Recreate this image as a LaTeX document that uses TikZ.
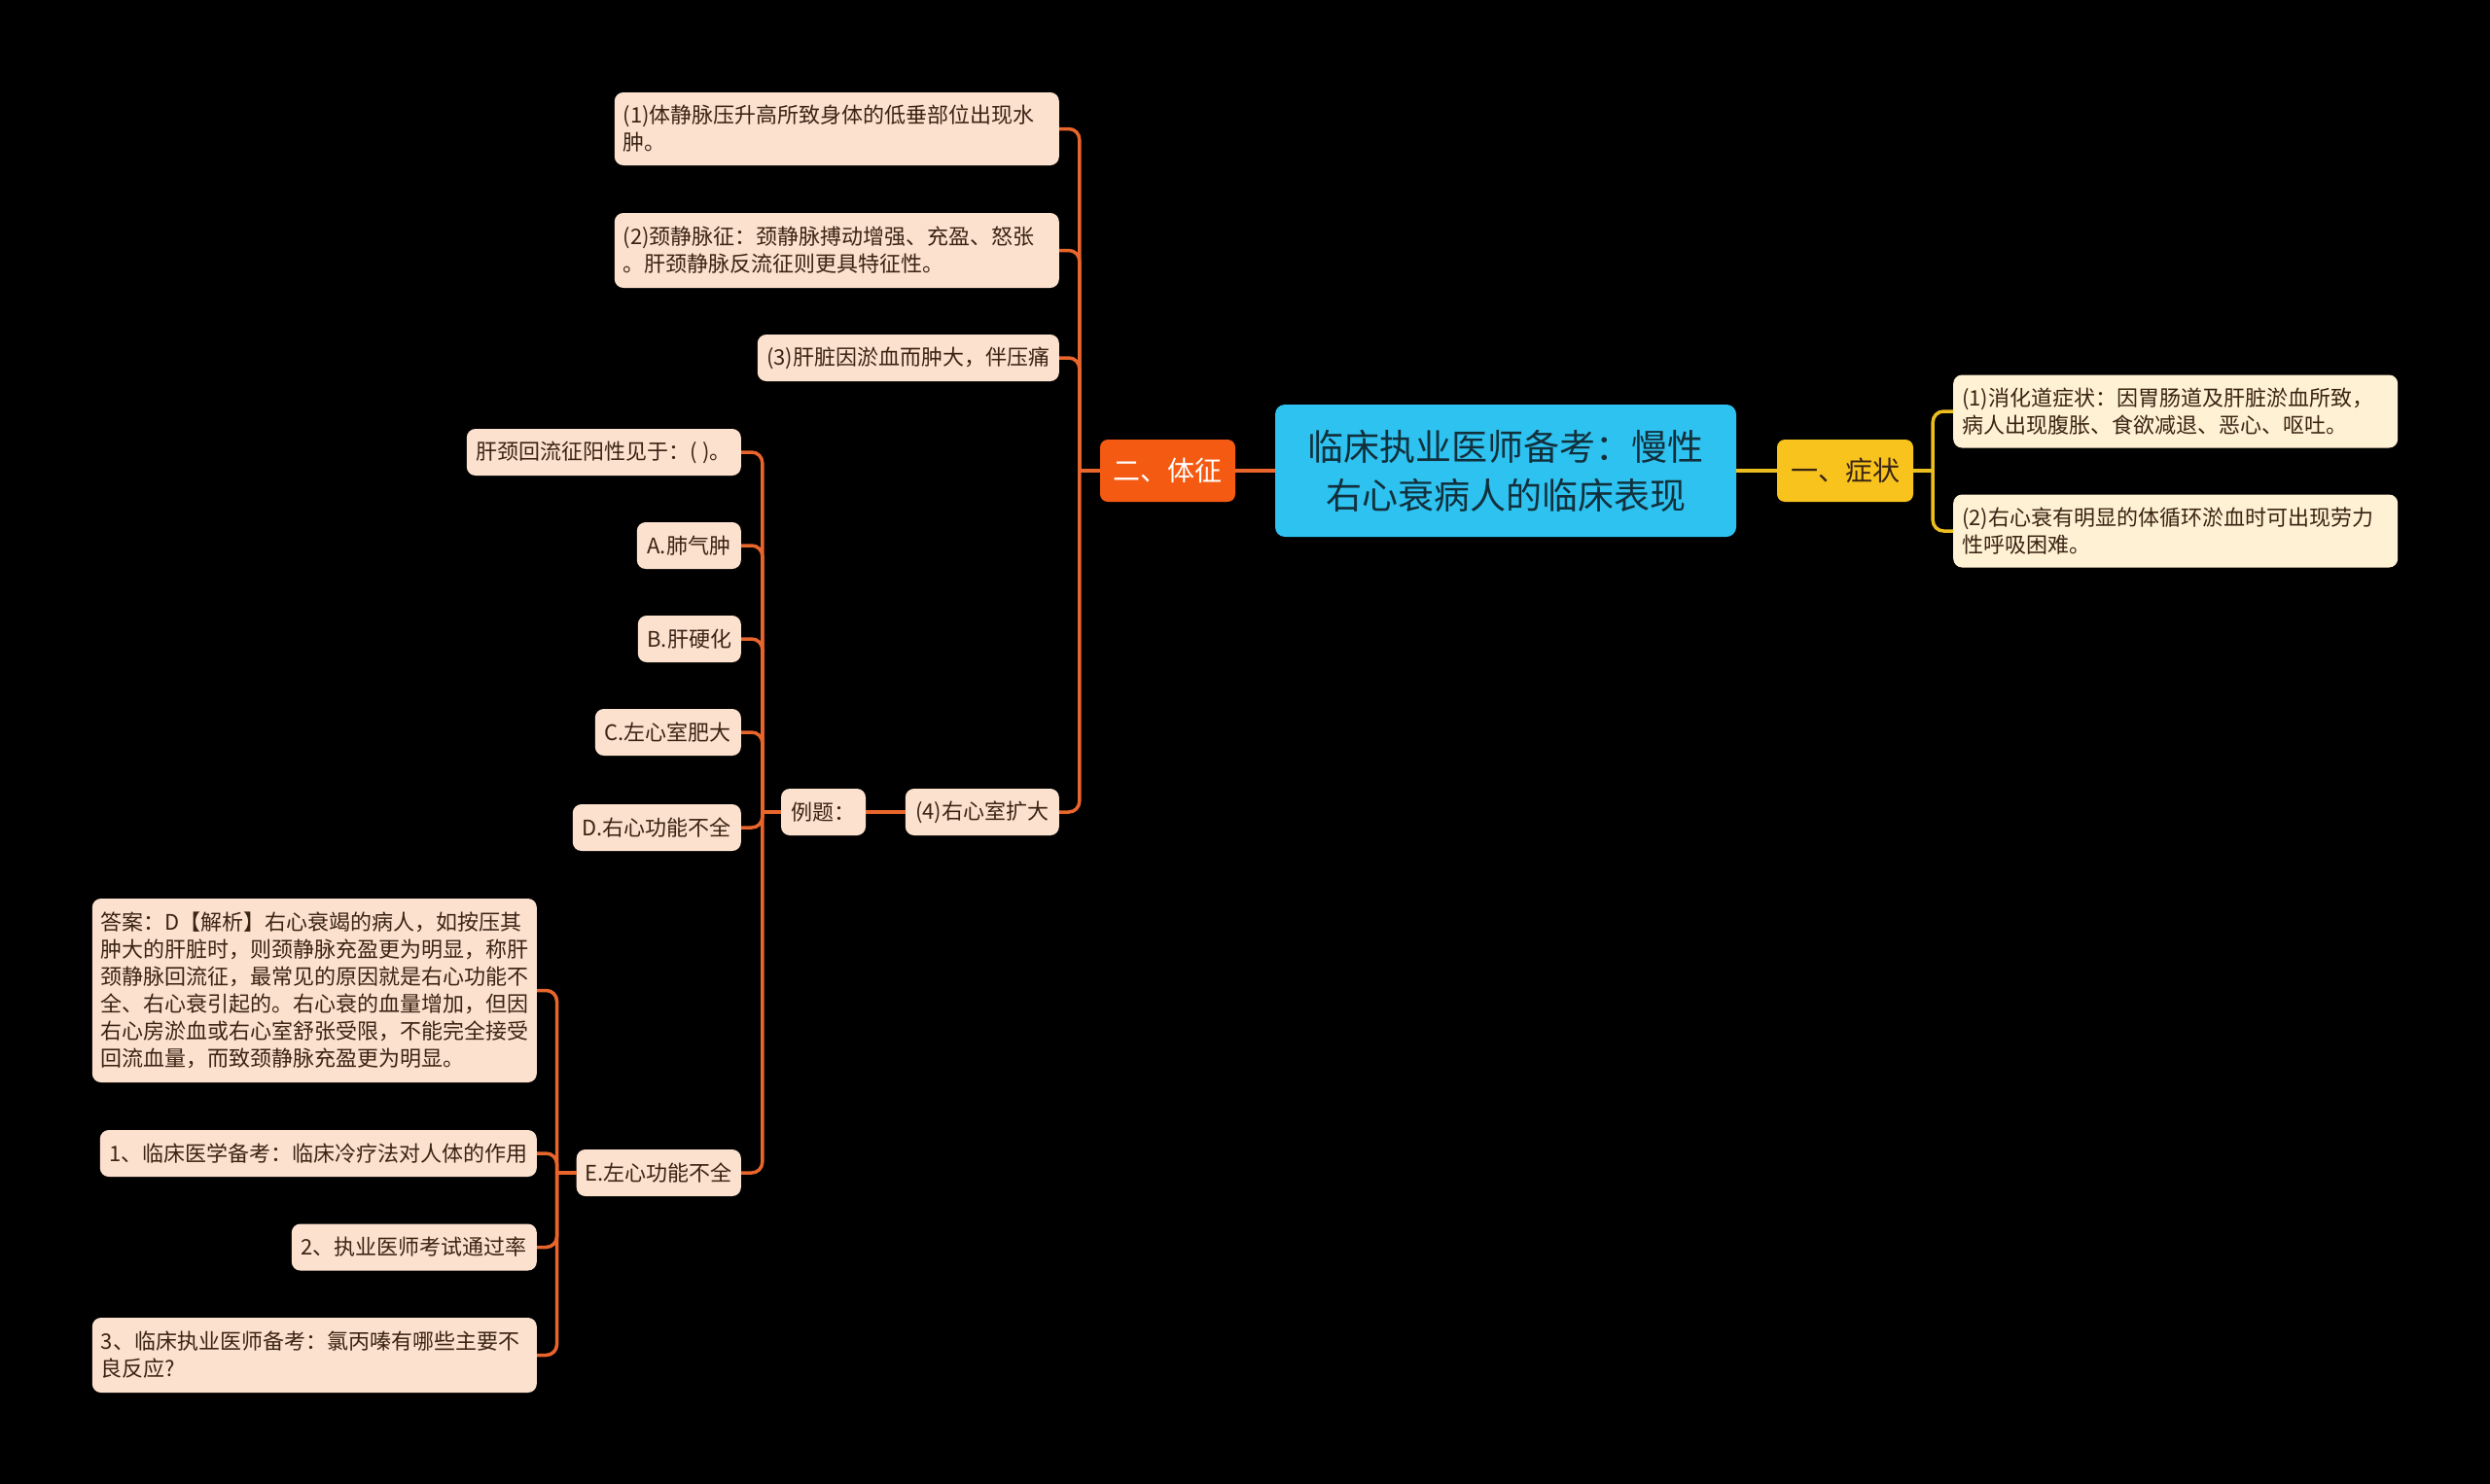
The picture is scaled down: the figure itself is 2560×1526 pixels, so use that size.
\documentclass[tikz,border=0pt]{standalone}
\usepackage{fontspec}
\setmainfont{Noto Sans CJK SC}
\usetikzlibrary{calc}
\definecolor{rootc}{HTML}{2EC2F0}
\definecolor{roottxt}{HTML}{12303C}
\definecolor{orangec}{HTML}{F55A12}
\definecolor{yellowc}{HTML}{F7C31C}
\definecolor{leafo}{HTML}{FDE1CF}
\definecolor{leafy}{HTML}{FFF1D3}
\definecolor{lineo}{HTML}{E8652C}
\definecolor{liney}{HTML}{EDBE20}
\definecolor{leaftxt}{HTML}{3A2414}
\begin{document}
\begin{tikzpicture}[x=1pt,y=-1pt,
  box/.style={rounded corners=9pt, inner xsep=9pt, inner ysep=5pt, font=\fontsize{22}{28}\selectfont, text=leaftxt},
  leaf/.style={box, fill=leafo, minimum height=48pt},
  leafw/.style={box, fill=leafo, align=left},
  leafyw/.style={box, fill=leafy, align=left},
  oline/.style={draw=lineo, line width=3.5pt},
  yline/.style={draw=liney, line width=3.5pt},
  corner/.style={rounded corners=11pt}
]
\fill[black] (0,0) rectangle (2560,1526);
\useasboundingbox (0,0) rectangle (2560,1526);

% root and main branches
\node[fill=rootc, text=roottxt, rounded corners=10pt, minimum width=474pt, minimum height=136pt, align=center, font=\fontsize{37}{50}\selectfont] (root) at (1548,484) {临床执业医师备考：慢性\\右心衰病人的临床表现};
\node[fill=orangec, text=white, rounded corners=8pt, minimum width=139pt, minimum height=64pt, font=\fontsize{28}{34}\selectfont] (tz) at (1200.5,484) {二、体征};
\node[fill=yellowc, text=leaftxt, rounded corners=8pt, minimum width=140pt, minimum height=64pt, font=\fontsize{28}{34}\selectfont] (zz) at (1897,484) {一、症状};

% right leaves
\node[leafyw, anchor=west, text width=439pt, minimum height=75pt] (s1) at (2008,423) {(1)消化道症状：因胃肠道及肝脏淤血所致，\\病人出现腹胀、食欲减退、恶心、呕吐。};
\node[leafyw, anchor=west, text width=439pt, minimum height=75pt] (s2) at (2008,546) {(2)右心衰有明显的体循环淤血时可出现劳力\\性呼吸困难。};

% left of 二
\node[leafw, anchor=east, text width=439pt, minimum height=75pt] (p1) at (1089,132.5) {(1)体静脉压升高所致身体的低垂部位出现水\\肿。};
\node[leafw, anchor=east, text width=439pt, minimum height=77pt] (p2) at (1089,257.5) {(2)颈静脉征：颈静脉搏动增强、充盈、怒张\\。肝颈静脉反流征则更具特征性。};
\node[leaf, anchor=east, minimum width=310pt] (p3) at (1089,368) {(3)肝脏因淤血而肿大，伴压痛};
\node[leaf, anchor=east, minimum width=158pt] (p4) at (1089,835) {(4)右心室扩大};
\node[leaf, minimum width=87pt] (ex) at (846.5,835) {例题：};

\node[leaf, anchor=east, minimum width=282pt] (q0) at (762,465) {肝颈回流征阳性见于：( )。};
\node[leaf, anchor=east, minimum width=107pt] (qa) at (762,561) {A.肺气肿};
\node[leaf, anchor=east, minimum width=106pt] (qb) at (762,657) {B.肝硬化};
\node[leaf, anchor=east, minimum width=150pt] (qc) at (762,753) {C.左心室肥大};
\node[leaf, anchor=east, minimum width=173pt] (qd) at (762,851) {D.右心功能不全};
\node[leaf, anchor=east, minimum width=169pt] (qe) at (762,1206) {E.左心功能不全};

\node[leafw, anchor=east, text width=439pt, minimum height=189pt] (ans) at (552,1018.5) {答案：D【解析】右心衰竭的病人，如按压其\\肿大的肝脏时，则颈静脉充盈更为明显，称肝\\颈静脉回流征，最常见的原因就是右心功能不\\全、右心衰引起的。右心衰的血量增加，但因\\右心房淤血或右心室舒张受限，不能完全接受\\回流血量，而致颈静脉充盈更为明显。};
\node[leaf, anchor=east, minimum width=449pt] (r1) at (552,1186) {1、临床医学备考：临床冷疗法对人体的作用};
\node[leaf, anchor=east, minimum width=252pt] (r2) at (552,1282.5) {2、执业医师考试通过率};
\node[leafw, anchor=east, text width=439pt, minimum height=77pt] (r3) at (552,1393.5) {3、临床执业医师备考：氯丙嗪有哪些主要不\\良反应?};

% connectors: right side
\draw[yline] (root.east) -- (zz.west);
\coordinate (t1) at ($(zz.east)+(20,0)$);
\draw[yline] (zz.east) -- (t1);
\foreach \c in {s1,s2} \draw[yline, corner] (t1) |- (\c.west);

% connectors: left side
\draw[oline] (root.west) -- (tz.east);
\coordinate (t2) at ($(tz.west)+(-21,0)$);
\draw[oline] (tz.west) -- (t2);
\foreach \c in {p1,p2,p3,p4} \draw[oline, corner] (t2) |- (\c.east);

\draw[oline] (p4.west) -- (ex.east);
\coordinate (t3) at ($(ex.west)+(-19,0)$);
\draw[oline] (ex.west) -- (t3);
\foreach \c in {q0,qa,qb,qc,qd,qe} \draw[oline, corner] (t3) |- (\c.east);

\coordinate (t4) at ($(qe.west)+(-20,0)$);
\draw[oline] (qe.west) -- (t4);
\foreach \c in {ans,r1,r2,r3} \draw[oline, corner] (t4) |- (\c.east);
\end{tikzpicture}
\end{document}
